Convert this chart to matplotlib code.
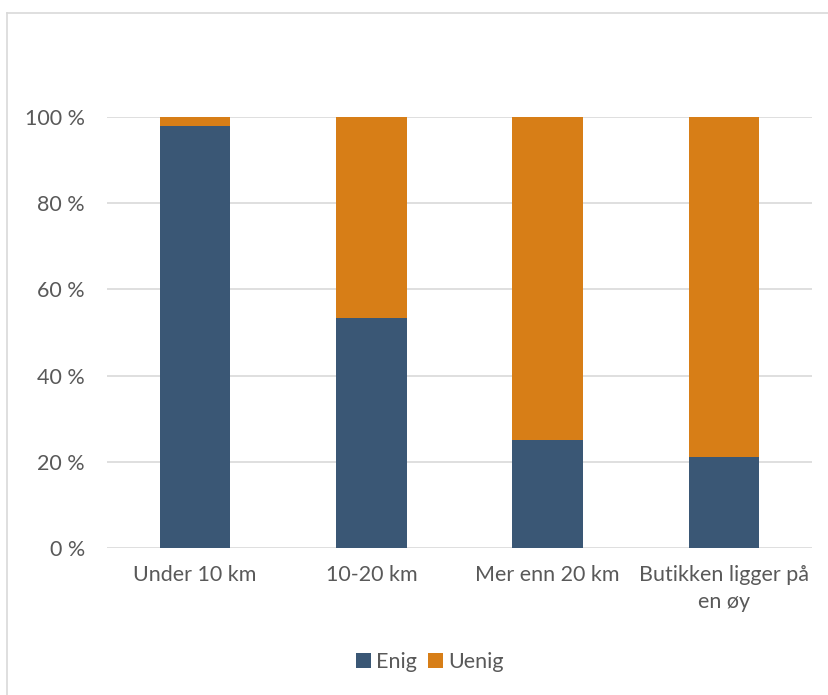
import matplotlib
matplotlib.use("Agg")
import matplotlib.pyplot as plt
from matplotlib.lines import Line2D
from matplotlib.ticker import FuncFormatter

categories = ["Under 10 km", "10-20 km", "Mer enn 20 km", "Butikken ligger på\nen øy"]
enig = [98.0, 53.4, 25.1, 21.1]
uenig = [100 - v for v in enig]
series_names = ["Enig", "Uenig"]
colors = ["#3A5775", "#D77E17"]
text_color = "#595959"
grid_color = "#D9D9D9"

plt.rcParams["font.family"] = ["Lato", "DejaVu Sans"]

fig = plt.figure(figsize=(8.29, 6.95), dpi=100)
ax = fig.add_axes([107 / 829, (695 - 548) / 695, 705 / 829, 431 / 695])

x = range(len(categories))
ax.bar(x, enig, width=0.4, color=colors[0], label=series_names[0], zorder=3)
ax.bar(x, uenig, width=0.4, bottom=enig, color=colors[1], label=series_names[1], zorder=3)

ax.set_xlim(-0.5, len(categories) - 0.5)
ax.set_ylim(0, 100)
ax.set_yticks(range(0, 101, 20))
ax.yaxis.set_major_formatter(FuncFormatter(lambda v, _: f"{int(v)} %"))
ax.set_xticks(list(x))
ax.set_xticklabels(categories, linespacing=1.45)
ax.tick_params(axis="both", length=0, labelsize=15.5, labelcolor=text_color)
ax.tick_params(axis="x", pad=12)
ax.tick_params(axis="y", pad=16)
ax.yaxis.grid(True, color=grid_color, linewidth=1.2, zorder=0)
for s in ax.spines.values():
    s.set_visible(False)

leg = fig.legend(loc="center", bbox_to_anchor=(430 / 829, (695 - 662) / 695), ncol=2,
                 frameon=False, fontsize=15.5, handlelength=0.7, handleheight=0.7,
                 handletextpad=0.25, columnspacing=0.5)
for t in leg.get_texts():
    t.set_color(text_color)

# outer chart frame (top and left edges)
fig.add_artist(Line2D([7.5 / 829, 1.0], [1 - 12.5 / 695, 1 - 12.5 / 695],
                      transform=fig.transFigure, color=grid_color, linewidth=1.2))
fig.add_artist(Line2D([7.5 / 829, 7.5 / 829], [0, 1 - 12.5 / 695],
                      transform=fig.transFigure, color=grid_color, linewidth=1.2))

fig.savefig("out.png", dpi=100, facecolor="white")
